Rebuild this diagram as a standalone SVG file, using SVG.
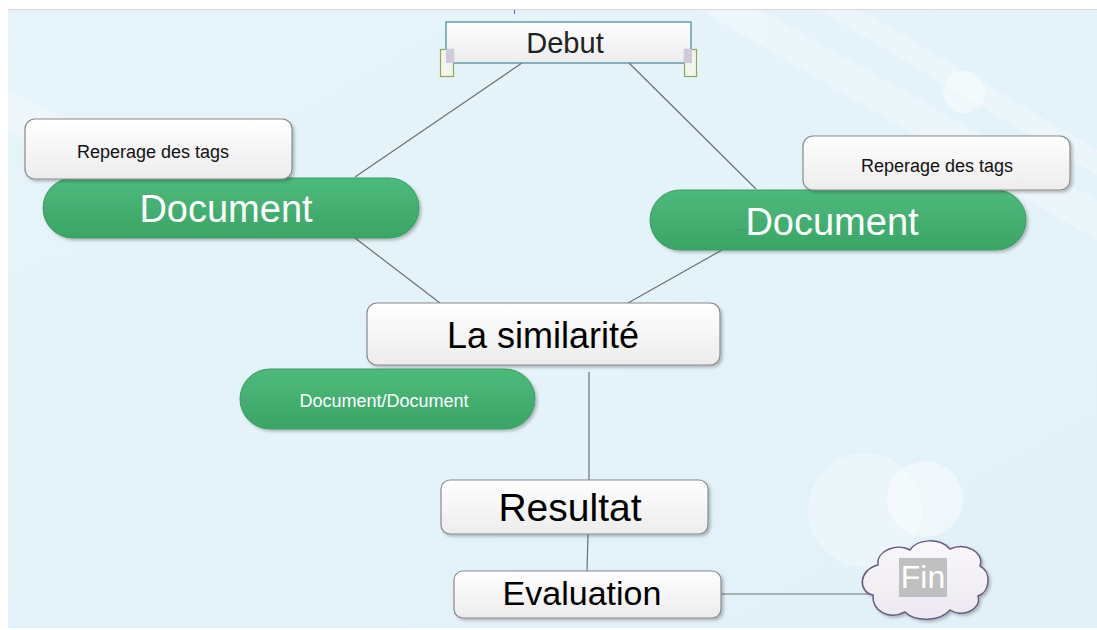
<svg xmlns="http://www.w3.org/2000/svg" width="1097" height="630" viewBox="0 0 1097 630">
<defs>
<linearGradient id="bg" x1="0" y1="0" x2="1" y2="1">
<stop offset="0" stop-color="#e6f4fa"/><stop offset="1" stop-color="#e2f1f8"/>
</linearGradient>
<linearGradient id="wbox" x1="0" y1="0" x2="0" y2="1">
<stop offset="0" stop-color="#ffffff"/><stop offset="1" stop-color="#ececec"/>
</linearGradient>
<linearGradient id="green" x1="0" y1="0" x2="0" y2="1">
<stop offset="0" stop-color="#4dba7c"/><stop offset="1" stop-color="#3aa565"/>
</linearGradient>
<linearGradient id="cloudg" x1="0" y1="0" x2="0" y2="1">
<stop offset="0" stop-color="#faf8fb"/><stop offset="1" stop-color="#ece8f0"/>
</linearGradient>
<filter id="sh" x="-10%" y="-20%" width="120%" height="150%">
<feDropShadow dx="2" dy="2" stdDeviation="1.5" flood-color="#000" flood-opacity="0.25"/>
</filter>
</defs>
<style>
.wb{fill:url(#wbox);stroke:#8a8a8a;stroke-width:1.2;filter:url(#sh)}
.gp{fill:url(#green);stroke:#3a9c60;stroke-width:1;filter:url(#sh)}
.t{font-family:"Liberation Sans",Arial,sans-serif;text-anchor:middle}
.dk{fill:#111}
.wt{fill:#ffffff}
.ln{stroke:#707070;stroke-width:1.2;fill:none}
</style>
<rect x="0" y="0" width="1097" height="630" fill="#ffffff"/>
<rect x="8" y="10" width="1089" height="618" fill="url(#bg)"/>
<line x1="8" y1="9.5" x2="1097" y2="9.5" stroke="#d8d8d8"/>
<g opacity="0.3" fill="#ffffff">
<polygon points="700,10 760,10 1097,200 1097,240"/>
<polygon points="820,10 860,10 1097,150 1097,175"/>
<polygon points="8,90 8,130 120,180 90,130"/>
</g>
<circle cx="964" cy="92" r="21" fill="#ffffff" opacity="0.45"/>
<circle cx="865" cy="510" r="57" fill="#ffffff" opacity="0.3"/>
<circle cx="925" cy="499" r="38" fill="#ffffff" opacity="0.45"/>
<line x1="514.5" y1="10" x2="514.5" y2="14" stroke="#3a6fd0" stroke-width="1"/>
<g id="connectors">
<line class="ln" x1="522" y1="63" x2="355" y2="177"/>
<line class="ln" x1="629" y1="63" x2="756" y2="189"/>
<line class="ln" x1="355" y1="238" x2="440" y2="303"/>
<line class="ln" x1="722" y1="250" x2="628" y2="303"/>
<line class="ln" x1="589" y1="372" x2="589" y2="480"/>
<line class="ln" x1="588" y1="534" x2="587" y2="571"/>
<line class="ln" x1="721" y1="594" x2="872" y2="594"/>
</g>
<g id="debut">
<rect x="446" y="22" width="245" height="41" fill="url(#wbox)" stroke="#4a8fa0" stroke-width="1.3"/>
<rect x="440.5" y="49.5" width="13" height="27" fill="#f2f4ee" stroke="#8aa856" stroke-width="1.2"/>
<rect x="446" y="49" width="8" height="14" fill="#d0c8dc"/>
<rect x="684.5" y="49.5" width="12" height="27" fill="#f2f4ee" stroke="#8aa856" stroke-width="1.2"/>
<rect x="684" y="49" width="8" height="14" fill="#d0c8dc"/>
<text class="t" x="565" y="53" font-size="29" fill="#222">Debut</text>
</g>
<g id="doc-left">
<rect class="gp" x="43" y="178" width="376" height="60" rx="30"/>
<text class="t wt" x="226" y="222" font-size="38">Document</text>
</g>
<g id="tags-left">
<rect class="wb" x="25" y="119" width="267" height="60" rx="10"/>
<text class="t dk" x="153" y="158" font-size="18">Reperage des tags</text>
</g>
<g id="doc-right">
<rect class="gp" x="650" y="190" width="376" height="60" rx="30"/>
<line x1="737" y1="230" x2="745" y2="230" stroke="#777" stroke-width="1"/>
<text class="t wt" x="832" y="235" font-size="38">Document</text>
</g>
<g id="tags-right">
<rect class="wb" x="803" y="136" width="267" height="54" rx="10"/>
<text class="t dk" x="937" y="172" font-size="18">Reperage des tags</text>
</g>
<g id="similarite">
<rect class="wb" x="367" y="303" width="353" height="62" rx="10"/>
<text class="t" x="543" y="348" font-size="36" fill="#000">La similarité</text>
</g>
<g id="docdoc">
<rect class="gp" x="240" y="369" width="295" height="60" rx="30"/>
<text class="t wt" x="384" y="407" font-size="18">Document/Document</text>
</g>
<g id="resultat">
<rect class="wb" x="441" y="480" width="267" height="54" rx="9"/>
<text class="t" x="570" y="521" font-size="39" fill="#000">Resultat</text>
</g>
<g id="evaluation">
<rect class="wb" x="454" y="571" width="267" height="47" rx="9"/>
<text class="t" x="582" y="605" font-size="34" fill="#000">Evaluation</text>
</g>
<g id="fin">
<path d="M873,595 C858,592 858,570 878,565 C876,550 898,543 910,550 C918,538 940,538 950,549 C965,542 985,552 980,566 C992,572 990,592 978,596 C982,610 962,618 950,610 C940,622 915,622 905,612 C890,620 872,612 873,595 Z" fill="url(#cloudg)" stroke="#6a5a80" stroke-width="1.5" filter="url(#sh)"/>
<rect x="899" y="558" width="48" height="39" fill="#c0c0c0"/>
<text class="t wt" x="923" y="588" font-size="32">Fin</text>
</g>
</svg>
